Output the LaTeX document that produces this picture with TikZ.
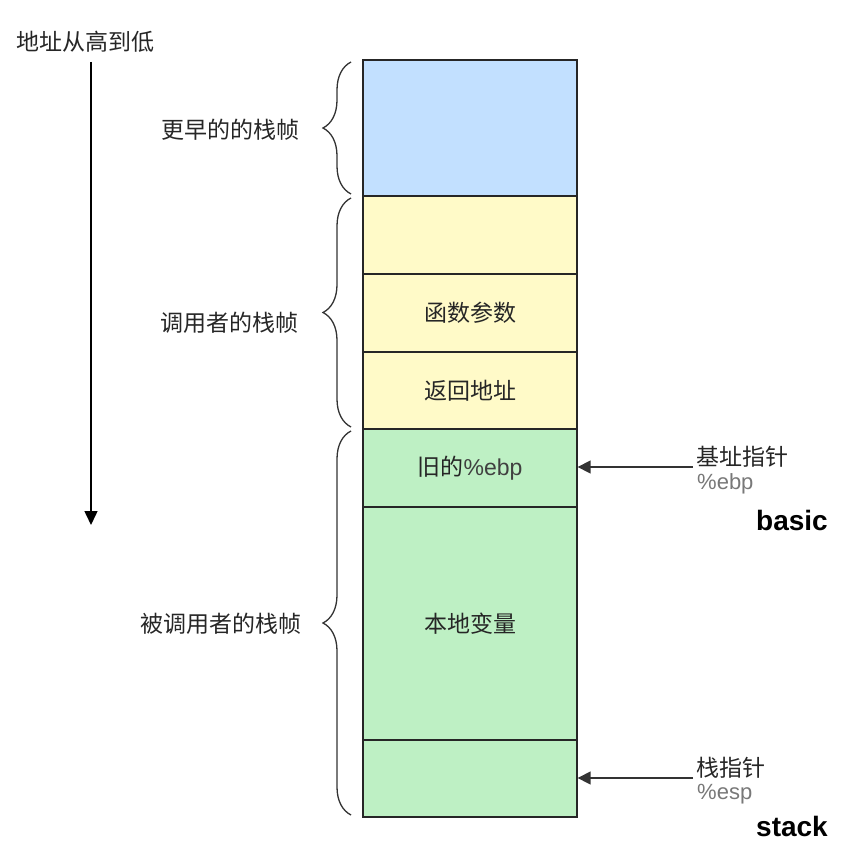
\documentclass[tikz,border=0pt]{standalone}
\usepackage{fontspec}
\setmainfont{Liberation Sans}
\newfontfamily\cjk{Noto Sans CJK SC}
\usetikzlibrary{arrows.meta,decorations.pathreplacing}
\definecolor{cblue}{RGB}{194,224,255}
\definecolor{cyellow}{RGB}{255,250,200}
\definecolor{cgreen}{RGB}{190,240,196}
\definecolor{cgrey}{RGB}{120,120,120}
\tikzset{
  cell/.style={draw=black!85,line width=1.3pt,minimum width=214pt,inner sep=0pt,font=\cjk\fontsize{23}{25}\selectfont,text=black!85},
  lbl/.style={font=\cjk\fontsize{23}{25}\selectfont,text=black!85,inner sep=0pt},
  brc/.style={decorate,decoration={brace,amplitude=28pt,aspect=0.5,mirror},line width=1.3pt,draw=black!80},
  ptr/.style={-{Triangle[length=13pt,width=13pt]},line width=1.4pt,draw=black!80},
  en/.style={font=\fontsize{28}{30}\selectfont\bfseries,inner sep=0pt},
  reg/.style={font=\fontsize{22}{24}\selectfont,text=cgrey,inner sep=0pt,anchor=north west}
}
\begin{document}
\begin{tikzpicture}[x=1pt,y=-1pt]
\useasboundingbox (0,0) rectangle (863,864);
% cells
\node[cell,fill=cblue,minimum height=136pt] (c1) at (470,128) {};
\node[cell,fill=cyellow,minimum height=78pt] (c2) at (470,235) {};
\node[cell,fill=cyellow,minimum height=78pt] (c3) at (470,313) {函数参数};
\node[cell,fill=cyellow,minimum height=77pt] (c4) at (470,390.5) {返回地址};
\node[cell,fill=cgreen,minimum height=78pt] (c5) at (470,468) {旧的\fontspec{Liberation Sans}\color{black!75}\%ebp};
\node[cell,fill=cgreen,minimum height=233pt] (c6) at (470,623.5) {本地变量};
\node[cell,fill=cgreen,minimum height=77pt] (c7) at (470,778.5) {};
% braces
\coordinate (b1t) at (351,62);
\coordinate (b1b) at (351,194);
\coordinate (b2t) at (351,198);
\coordinate (b2b) at (351,427);
\coordinate (b3t) at (351,431);
\coordinate (b3b) at (351,815);
\draw[brc] (b1t) -- (b1b);
\draw[brc] (b2t) -- (b2b);
\draw[brc] (b3t) -- (b3b);
\node[lbl] (l1) at (230,130) {更早的的栈帧};
\node[lbl] (l2) at (229,323) {调用者的栈帧};
\node[lbl] (l3) at (221,624) {被调用者的栈帧};
% address direction
\node[lbl,anchor=west] (addr) at (16,42) {地址从高到低};
\coordinate (aend) at (91,525);
\draw[-{Triangle[length=14pt,width=13pt]},line width=1.5pt] (91,62) -- (aend);
% pointers
\node[lbl,anchor=west] (bp) at (696,457) {基址指针};
\node[reg] (bpr) at (697,473) {\%ebp};
\node[en] (basic) at (792,520) {basic};
\node[lbl,anchor=west] (sp) at (696,768) {栈指针};
\node[reg] (spr) at (697,784) {\%esp};
\node[en] (stack) at (792,826) {stack};
\coordinate (bpa) at (693,467);
\coordinate (spa) at (693,778);
\draw[ptr] (bpa) -- (bpa -| c5.east);
\draw[ptr] (spa) -- (spa -| c7.east);
\end{tikzpicture}
\end{document}
